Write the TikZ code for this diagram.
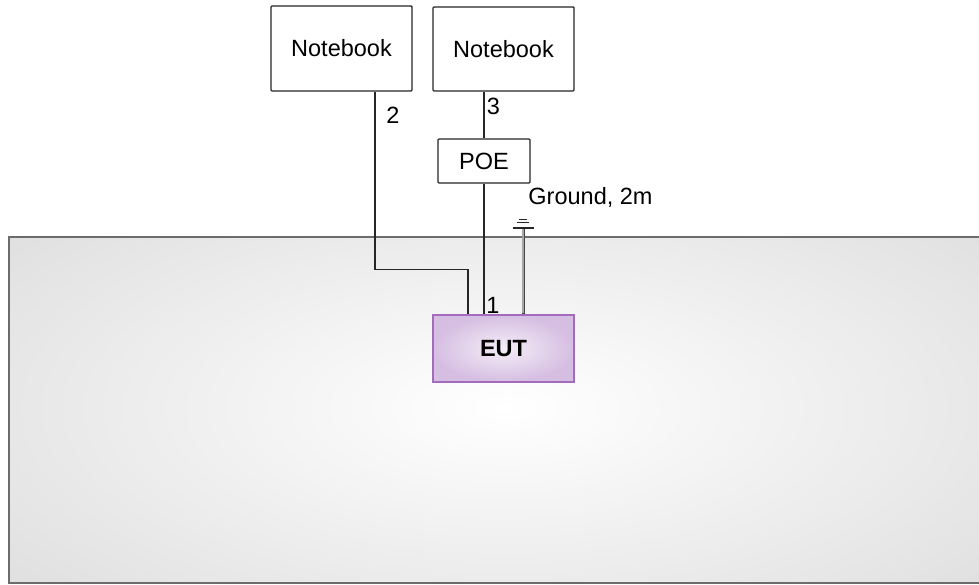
\documentclass[tikz,border=0pt]{standalone}
\usepackage{fontspec}
\setmainfont{Liberation Sans}
\usetikzlibrary{calc}
\definecolor{eutborder}{HTML}{A36BBB}
\definecolor{eutin}{HTML}{F4EEF7}
\definecolor{eutout}{HTML}{D6BEE2}
\definecolor{bgout}{HTML}{DDDDDD}
\definecolor{wire}{HTML}{262626}
\begin{document}
\begin{tikzpicture}[x=1pt,y=-1pt,
  font=\fontsize{23.5}{28}\selectfont,
  box/.style={draw=wire, line width=1.4pt, fill=white, rounded corners=1pt, inner sep=0pt},
  wireline/.style={draw=wire, line width=1.4pt},
  lbl/.style={inner sep=0pt, text=black}]
\useasboundingbox (0,0) rectangle (979,585);
% background plate
\begin{scope}
  \clip (9,237) rectangle (990,583);
  \fill[bgout] (9,237) rectangle (990,583);
  \shade[inner color=white, outer color=bgout] (505,408) ellipse [x radius=700, y radius=300];
\end{scope}
\draw[draw=gray!85!black, line width=1.5pt] (990,237) -- (9,237) -- (9,583) -- (990,583);
% nodes
\node[box, minimum width=141pt, minimum height=85pt] (nb1) at (341.5,48.5) {Notebook};
\node[box, minimum width=141pt, minimum height=84pt] (nb2) at (503.5,49) {Notebook};
\node[box, minimum width=92pt, minimum height=44pt] (poe) at (484,161) {POE};
\node[draw=eutborder, line width=1.5pt, inner color=eutin, outer color=eutout,
      minimum width=141pt, minimum height=67pt, inner sep=0pt,
      font=\fontsize{23.5}{28}\selectfont\bfseries] (eut) at (503.5,348.5) {EUT};
% wires
\draw[wireline] ($(nb1.south)+(33.5,0)$) -- ++(0,178) -| ($(eut.north)+(-35.5,0)$);
\draw[wireline] (nb2.south -| poe.north) -- (poe.north);
\draw[wireline] (poe.south) -- (poe.south |- eut.north);
% ground
\coordinate (gnd) at (523,228);
\draw[draw=gray!55!black, line width=3pt] (eut.north -| gnd) -- (gnd);
\draw[gray!70, line width=1.2pt] ($(eut.north -| gnd)+(0,-1)$) -- ($(gnd)+(0,1)$);
\draw[black!85, line width=1.3pt] ($(gnd)+(-10.5,0)$) -- ($(gnd)+(10.5,0)$);
\draw[black!85, line width=1.3pt] ($(gnd)+(-6,-5.5)$) -- ($(gnd)+(6,-5.5)$);
\draw[black!85, line width=1.3pt] ($(gnd)+(-4,-8.5)$) -- ($(gnd)+(4,-8.5)$);
% labels
\node[lbl] (l2) at (393,115) {2};
\node[lbl] (l3) at (493.5,106) {3};
\node[lbl] (l1) at (493,305) {1};
\node[lbl] (lg) at (590.5,197) {Ground, 2m};
\end{tikzpicture}
\end{document}
